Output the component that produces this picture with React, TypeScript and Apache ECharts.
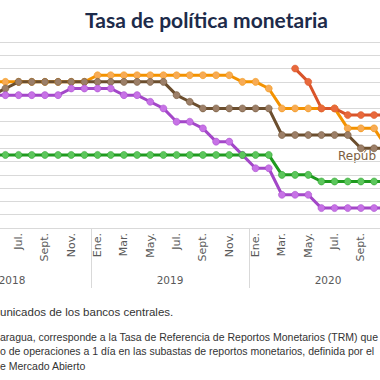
import React, { useEffect, useRef } from "react";
import * as echarts from "echarts";

const years = ["2018", "2019", "2020"];
const monthLabels = ["Ene.", "Feb.", "Mar.", "Abr.", "May.", "Jun.", "Jul.", "Ago.", "Sept.", "Oct.", "Nov.", "Dic."];
const categories = years.flatMap((y) => monthLabels.map((m) => `${m} ${y}`));
const firstVisibleLabel = 6; // Jul. 2018 is the first month label inside the view
const lastVisibleLabel = 32; // Sept. 2020 is the last month label inside the view

// Jan 2018 .. Dec 2020 (36 months)
const honduras = [
  null, null, null, null, 5.5, 5.5, 5.5, 5.5, 5.5, 5.5, 5.5, 5.5,
  5.75, 5.75, 5.75, 5.75, 5.75, 5.75, 5.75, 5.75, 5.75, 5.75, 5.75, 5.5,
  5.5, 5.25, 4.5, 4.5, 4.5, 4.5, 4.5, 3.75, 3.75, 3.75, 3.0, null,
];
const repDominicana = [
  null, null, null, null, 5.0, 5.25, 5.5, 5.5, 5.5, 5.5, 5.5, 5.5,
  5.5, 5.5, 5.5, 5.5, 5.5, 5.5, 5.0, 4.75, 4.5, 4.5, 4.5, 4.5,
  4.5, 4.5, 3.5, 3.5, 3.5, 3.5, 3.5, 3.5, 3.0, 3.0, 3.0, null,
];
const costaRica = [
  null, null, null, null, 5.0, 5.0, 5.0, 5.0, 5.0, 5.0, 5.25, 5.25,
  5.25, 5.25, 5.0, 5.0, 4.75, 4.5, 4.0, 4.0, 3.75, 3.25, 3.25, 2.75,
  2.25, 2.25, 1.25, 1.25, 1.25, 0.75, 0.75, 0.75, 0.75, 0.75, 0.75, null,
];
const guatemala = [
  null, null, null, null, 2.75, 2.75, 2.75, 2.75, 2.75, 2.75, 2.75, 2.75,
  2.75, 2.75, 2.75, 2.75, 2.75, 2.75, 2.75, 2.75, 2.75, 2.75, 2.75, 2.75,
  2.75, 2.75, 2.0, 2.0, 2.0, 1.75, 1.75, 1.75, 1.75, 1.75, 1.75, null,
];
const nicaragua = [
  null, null, null, null, null, null, null, null, null, null, null, null,
  null, null, null, null, null, null, null, null, null, null, null, null,
  null, null, null, 6.0, 5.5, 4.5, 4.5, 4.25, 4.25, 4.25, 4.25, null,
];

const seriesLabel = "Repúb";
const footerLines = [
  "unicados de los bancos centrales.",
  "aragua, corresponde a la Tasa de Referencia de Reportos Monetarios (TRM) que",
  "o de operaciones a 1 día en las subastas de reportos monetarios, definida por el",
  "e Mercado Abierto",
];

function mk(name: string, data: (number | null)[], line: string, fill: string) {
  return {
    name,
    type: "line",
    data,
    symbol: "circle",
    symbolSize: 7,
    showSymbol: true,
    connectNulls: false,
    lineStyle: { color: line, width: 3 },
    itemStyle: { color: fill, borderColor: line, borderWidth: 0.5 },
    z: 2,
  };
}

export default function App() {
  const ref = useRef<HTMLDivElement>(null);
  useEffect(() => {
    if (!ref.current) return;
    const chart = echarts.init(ref.current, null, { renderer: "svg" });
    chart.setOption({
      animation: false,
      backgroundColor: "#ffffff",
      title: {
        text: "Tasa de política monetaria",
        left: 80,
        top: 4,
        textStyle: { fontFamily: "Lato", fontWeight: "bold", fontSize: 21, color: "#1d2b4a" },
      },
      grid: {
        left: -67,
        right: -27,
        top: 42,
        bottom: 152,
        containLabel: false,
        outerBoundsMode: "none",
      },
      xAxis: [
        {
          type: "category",
          data: categories,
          position: "bottom",
          boundaryGap: true,
          axisLine: { show: true, lineStyle: { color: "#d9d9d9", width: 1 } },
          axisTick: { show: false },
          axisLabel: {
            interval: (i: number) => i % 2 === 0 && i >= firstVisibleLabel && i <= lastVisibleLabel,
            rotate: 90,
            margin: 5,
            fontSize: 11,
            fontFamily: "DejaVu Sans",
            color: "#595959",
            formatter: (_v: string, i: number) => monthLabels[i % 12],
          },
          splitLine: { show: false },
        },
        {
          type: "category",
          data: years,
          position: "bottom",
          boundaryGap: true,
          axisLine: { show: false },
          axisTick: { show: true, length: 60, lineStyle: { color: "#d9d9d9", width: 1 } },
          axisLabel: { margin: 46, fontSize: 10.5, fontFamily: "DejaVu Sans", color: "#595959" },
          splitLine: { show: false },
        },
      ],
      yAxis: {
        type: "value",
        min: 0,
        max: 7,
        interval: 0.5,
        axisLabel: { show: false },
        axisLine: { show: false },
        axisTick: { show: false },
        splitLine: { show: true, lineStyle: { color: "#d9d9d9", width: 1 } },
      },
      series: [
        mk("Honduras", honduras, "#f39200", "#f7ab55"),
        mk("República Dominicana", repDominicana, "#6b4e2e", "#9c7f68"),
        mk("Costa Rica", costaRica, "#a347c8", "#c772e6"),
        mk("Guatemala", guatemala, "#1f9a1f", "#5cc65c"),
        mk("Nicaragua", nicaragua, "#d9542a", "#e8693c"),
      ],
      graphic: [
        {
          type: "text",
          left: 338,
          top: 150,
          style: { text: seriesLabel, fontFamily: "DejaVu Sans", fontSize: 12, fill: "#7b5e42" },
        },
        ...footerLines.map((t, i) => ({
          type: "text",
          left: 0,
          top: i === 0 ? 306 : 331 + (i - 1) * 14.5,
          style: {
            text: t,
            fontFamily: "Liberation Sans",
            fontSize: i === 0 ? 11.5 : 10.5,
            fill: "#333333",
          },
        })),
      ],
    });
    return () => chart.dispose();
  }, []);
  return <div ref={ref} style={{ position: "fixed", left: 0, top: 0, width: 380, height: 380 }} />;
}
